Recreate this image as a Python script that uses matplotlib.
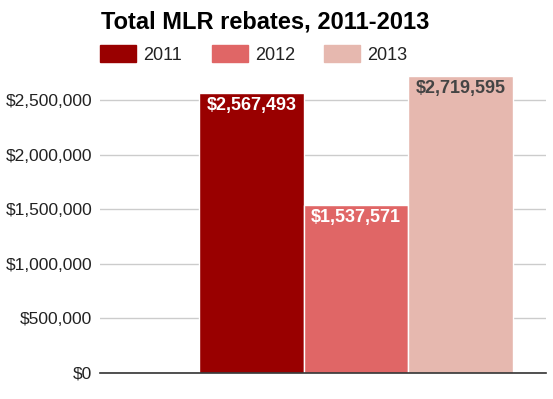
import matplotlib.pyplot as plt
from matplotlib.patches import Rectangle
from matplotlib.ticker import FuncFormatter

plt.rcParams["font.family"] = ["Liberation Sans", "DejaVu Sans"]

years = ["2011", "2012", "2013"]
rebates = [2567493, 1537571, 2719595]
colors = ["#990000", "#e06666", "#e6b8af"]
label_colors = ["white", "white", "#444444"]
yticks = [0, 500000, 1000000, 1500000, 2000000, 2500000]

W, H = 553, 399
fig = plt.figure(figsize=(W / 100, H / 100), dpi=100)
ax = fig.add_axes([100 / W, 26 / H, 446 / W, (373 - 76) / H])

xs = list(range(len(years)))
ax.bar(xs, rebates, width=1.0, color=colors, edgecolor="white", linewidth=1, zorder=3)

for x, v, c in zip(xs, rebates, label_colors):
    ax.annotate(f"${v:,}", (x, v), xytext=(0, -3), textcoords="offset points",
                ha="center", va="top", color=c, fontsize=13, fontweight="bold", zorder=4)

ax.set_xlim(-1.446, 2.815)
ax.set_ylim(0, max(rebates))
ax.set_yticks(yticks)
ax.yaxis.set_major_formatter(FuncFormatter(lambda v, p: f"${int(v):,}"))
ax.tick_params(axis="y", length=0, pad=5.5, labelsize=12.5, labelcolor="#222222")
ax.set_xticks([])
ax.grid(axis="y", color="#cccccc", linewidth=1, zorder=0)
for s in ["top", "right", "left"]:
    ax.spines[s].set_visible(False)
ax.spines["bottom"].set_color("#333333")
ax.spines["bottom"].set_linewidth(1.2)
ax.spines["bottom"].set_zorder(5)

fig.text(101 / W, 1 - 28 / H, "Total MLR rebates, 2011-2013", fontsize=17,
         fontweight="bold", va="baseline", ha="left", color="black")

# legend
for i, (yr, c) in enumerate(zip(years, colors)):
    x0 = 100 + i * 112
    fig.patches.append(Rectangle((x0 / W, 1 - 62 / H), 36 / W, 17 / H,
                                 transform=fig.transFigure, color=c))
    fig.text((x0 + 43) / W, 1 - 60 / H, yr, fontsize=13, va="baseline",
             ha="left", color="#222222")

fig.savefig("out.png", dpi=100)
